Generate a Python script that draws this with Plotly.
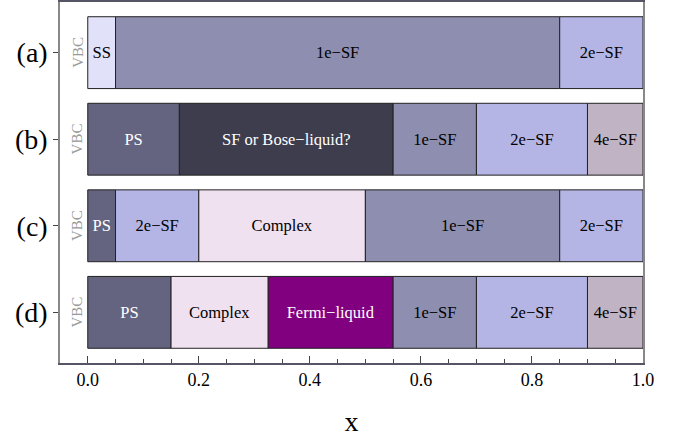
import plotly.graph_objects as go

rows = ["(a)", "(b)", "(c)", "(d)"]
segments = {
    "(a)": [("SS", 0.0, 0.05), ("1e\u2212SF", 0.05, 0.85), ("2e\u2212SF", 0.85, 1.0)],
    "(b)": [("PS", 0.0, 0.165), ("SF or Bose\u2212liquid?", 0.165, 0.55),
            ("1e\u2212SF", 0.55, 0.70), ("2e\u2212SF", 0.70, 0.90), ("4e\u2212SF", 0.90, 1.0)],
    "(c)": [("PS", 0.0, 0.05), ("2e\u2212SF", 0.05, 0.20), ("Complex", 0.20, 0.50),
            ("1e\u2212SF", 0.50, 0.85), ("2e\u2212SF", 0.85, 1.0)],
    "(d)": [("PS", 0.0, 0.15), ("Complex", 0.15, 0.325), ("Fermi\u2212liquid", 0.325, 0.55),
            ("1e\u2212SF", 0.55, 0.70), ("2e\u2212SF", 0.70, 0.90), ("4e\u2212SF", 0.90, 1.0)],
}
phase_colors = {
    "SS": "#e1e1fa",
    "1e\u2212SF": "#8e8eb0",
    "2e\u2212SF": "#b5b5e5",
    "4e\u2212SF": "#c0b3c3",
    "PS": "#646480",
    "SF or Bose\u2212liquid?": "#3d3d4e",
    "Complex": "#f0e1f0",
    "Fermi\u2212liquid": "#800080",
}
white_text = {"PS", "SF or Bose\u2212liquid?", "Fermi\u2212liquid"}
left_label = "VBC"
x_ticks = [0.0, 0.2, 0.4, 0.6, 0.8, 1.0]

FONT = "Liberation Serif, Times New Roman, serif"

fig = go.Figure()
for yi, row in enumerate(rows):
    for name, start, end in segments[row]:
        fig.add_trace(go.Bar(
            y=[yi], x=[end - start], base=[start], orientation="h",
            width=0.83,
            marker=dict(color=phase_colors[name], line=dict(color="#222222", width=1)),
            text=[name], textposition="inside", insidetextanchor="middle",
            textangle=0,
            textfont=dict(family=FONT, size=16.5,
                          color="white" if name in white_text else "black"),
            showlegend=False, hoverinfo="skip",
        ))
    fig.add_annotation(x=-0.019, y=yi, text=left_label, textangle=-90,
                       showarrow=False, xref="x", yref="y",
                       font=dict(family=FONT, size=15, color="#999999"))

fig.update_layout(
    width=693, height=439,
    margin=dict(l=60, r=50, t=2, b=76),
    paper_bgcolor="white", plot_bgcolor="white",
    barmode="overlay",
    uniformtext=dict(minsize=14, mode="show"),
    xaxis=dict(
        range=[-0.05, 1.0], tickvals=x_ticks, ticktext=[f"{v:.1f}" for v in x_ticks],
        ticks="inside", ticklen=7, tickcolor="#444444", tickwidth=1,
        minor=dict(dtick=0.05, ticks="inside", ticklen=4, tickcolor="#444444", tick0=0),
        showgrid=False, zeroline=False, automargin=False,
        showline=True, linecolor="#555566", linewidth=1.5, mirror=True,
        tickfont=dict(family=FONT, size=18, color="black"),
        title=dict(text="x", font=dict(family=FONT, size=28, color="black"), standoff=22),
    ),
    yaxis=dict(
        range=[3.585, -0.585], tickvals=list(range(len(rows))), ticktext=rows,
        ticks="outside", ticklen=5, tickcolor="#444444",
        showgrid=False, zeroline=False, automargin=False,
        showline=True, linecolor="#888888", linewidth=1.5, mirror=True,
        tickfont=dict(family=FONT, size=28, color="black"),
    ),
)

fig.write_html("out.html", config={"displayModeBar": False},
               post_script="document.body.style.margin='0';document.body.style.overflow='hidden';")
